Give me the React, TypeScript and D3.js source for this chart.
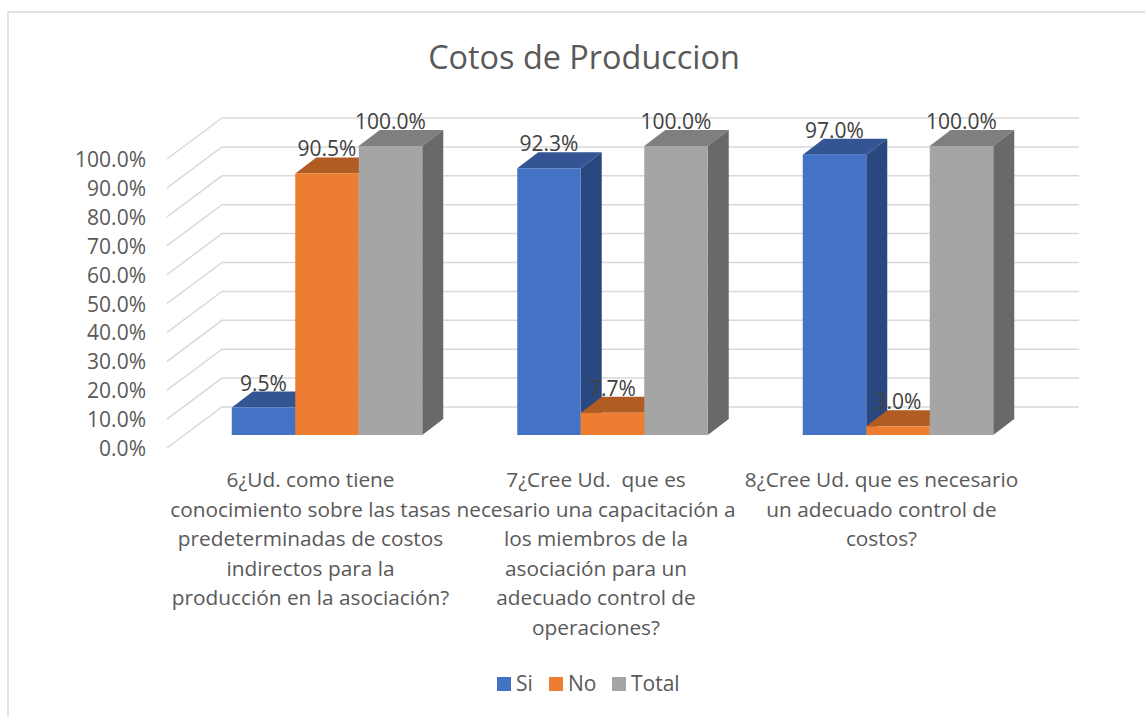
import React from "react";
import * as d3 from "d3";

const categories = ["q6", "q7", "q8"];
const categoryLines = [
  ["6¿Ud. como tiene", "conocimiento sobre las tasas", "predeterminadas de costos", "indirectos para la", "producción en la asociación?"],
  ["7¿Cree Ud.  que es", "necesario una capacitación a", "los miembros de la", "asociación para un", "adecuado control de", "operaciones?"],
  ["8¿Cree Ud. que es necesario", "un adecuado control de", "costos?"],
];
const seriesNames = ["Si", "No", "Total"];
const si = [0.095, 0.923, 0.97];
const no = [0.905, 0.077, 0.03];
const total = [1, 1, 1];
const seriesValues = [si, no, total];
const front = ["#4472C4", "#ED7D31", "#A5A5A5"];
const top = ["#335593", "#B15C22", "#7F7F7F"];
const side = ["#29487F", "#99501E", "#696969"];
const ticks = d3.range(0, 11).map((d) => d / 10);
const FONT = "'Open Sans', 'Noto Sans', sans-serif";

const y = d3.scaleLinear().domain([0, 1]).range([435, 146]);
const groupX = d3.scaleBand().domain(categories).range([184.25, 1040.75]);
const groupCenter = (i: number) => groupX(categories[i])! + groupX.bandwidth() / 2;
const barW = 63.5;
const dx = 21;
const dy = 16;
const labelShift = -16.5;
// wall / floor
const wallLeft = 167, wallBack = 222, wallRight = 1079;
const wallOffsetFront = 13, wallOffsetBack = -28;

export default function App() {
  return (
    <svg width={1145} height={716} style={{ position: "absolute", left: 0, top: 0, background: "#fff" }}>
      <path d="M8,716 V12 H1145" fill="none" stroke="#D9D9D9" strokeWidth={1.5} />
      <text x={584} y={69} textAnchor="middle" fontFamily={FONT} fontSize={32.4} fill="#595959">Cotos de Produccion</text>
      {ticks.map((t) => (
        <g key={t}>
          <path
            d={`M${wallLeft},${y(t) + wallOffsetFront} L${wallBack},${y(t) + wallOffsetBack} H${wallRight}`}
            fill="none" stroke="#D9D9D9" strokeWidth={1.5}
          />
          <text x={146} y={y(t) + wallOffsetFront + 8} textAnchor="end" fontFamily={FONT} fontSize={21} fill="#595959">
            {d3.format(".1%")(t)}
          </text>
        </g>
      ))}
      {categories.map((c, ci) =>
        seriesValues.map((vals, si_) => {
          const x0 = groupCenter(ci) - barW * 1.5 + si_ * barW;
          const x1 = x0 + barW;
          const yt = y(vals[ci]);
          const yb = y(0);
          return (
            <g key={c + si_}>
              <path d={`M${x0},${yt} L${x0 + dx},${yt - dy} H${x1 + dx} L${x1},${yt} Z`} fill={top[si_]} />
              <path d={`M${x1},${yt} L${x1 + dx},${yt - dy} V${yb - dy} L${x1},${yb} Z`} fill={side[si_]} />
              <rect x={x0} y={yt} width={barW} height={yb - yt} fill={front[si_]} />
            </g>
          );
        })
      )}
      {categories.map((c, ci) =>
        seriesValues.map((vals, si_) => {
          const cx = groupCenter(ci) - barW + si_ * barW;
          return (
            <text key={c + si_} x={cx} y={y(vals[ci]) - 17} textAnchor="middle" fontFamily={FONT} fontSize={21} fill="#404040">
              {d3.format(".1%")(vals[ci])}
            </text>
          );
        })
      )}
      {categoryLines.map((lines, ci) =>
        lines.map((l, li) => (
          <text key={ci + "-" + li} x={groupCenter(ci) + labelShift} y={487 + li * 29.6} textAnchor="middle" fontFamily={FONT} fontSize={20.8} fill="#595959" xmlSpace="preserve">
            {l}
          </text>
        ))
      )}
      {seriesNames.map((n, i) => {
        const xs = [497, 549, 612][i];
        const xt = [516, 568, 631][i];
        return (
          <g key={n}>
            <rect x={xs} y={677} width={14} height={14} fill={front[i]} />
            <text x={xt} y={691} fontFamily={FONT} fontSize={21} fill="#595959">{n}</text>
          </g>
        );
      })}
    </svg>
  );
}
